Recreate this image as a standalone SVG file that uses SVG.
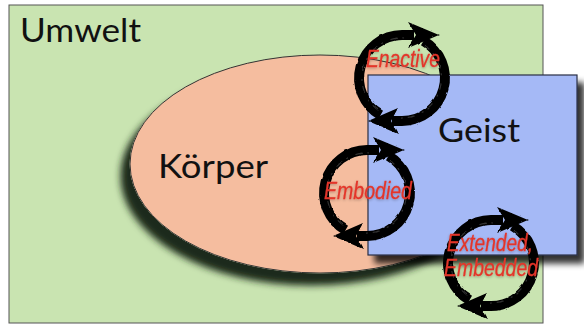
<svg xmlns="http://www.w3.org/2000/svg" xmlns:xlink="http://www.w3.org/1999/xlink" width="584" height="325" viewBox="0 0 584 325">
  <style>
    .big { font-family: Lato, "Liberation Sans", sans-serif; font-size: 33px; fill: #111; }
    .lbl { font-family: "Liberation Sans", Arial, sans-serif; font-style: italic; font-size: 23px; fill: #e3352a; stroke: #e3352a; stroke-width: 0.3; text-anchor: middle; }
    .ring { fill: none; stroke: #000; stroke-width: 10; }
    .streak { fill: none; stroke: #444; stroke-width: 1.2; stroke-dasharray: 7 5 2 8; opacity: 0.7; }
  </style>
  <defs>
    <filter id="shEll" x="-20%" y="-20%" width="140%" height="150%">
      <feGaussianBlur in="SourceAlpha" stdDeviation="3.5"/>
      <feOffset dx="-9" dy="12"/>
      <feComposite in2="SourceAlpha" operator="out" result="s"/>
      <feFlood flood-color="#1c2a1a"/>
      <feComposite in2="s" operator="in"/>
      <feMerge><feMergeNode/><feMergeNode in="SourceGraphic"/></feMerge>
    </filter>
    <filter id="shBox" x="-10%" y="-10%" width="130%" height="130%">
      <feGaussianBlur in="SourceAlpha" stdDeviation="3"/>
      <feOffset dx="7" dy="8"/>
      <feComponentTransfer><feFuncA type="linear" slope="0.8"/></feComponentTransfer>
      <feMerge><feMergeNode/><feMergeNode in="SourceGraphic"/></feMerge>
    </filter>
    <filter id="rough" x="-30%" y="-30%" width="160%" height="160%">
      <feTurbulence type="fractalNoise" baseFrequency="0.15" numOctaves="2" seed="3"/>
      <feDisplacementMap in="SourceGraphic" scale="2.5" xChannelSelector="R" yChannelSelector="G"/>
    </filter>
    <filter id="glow" x="-20%" y="-40%" width="140%" height="180%">
      <feGaussianBlur in="SourceAlpha" stdDeviation="1.5"/>
      <feOffset dx="0" dy="1"/>
      <feComponentTransfer><feFuncA type="linear" slope="0.3"/></feComponentTransfer>
      <feMerge><feMergeNode/><feMergeNode in="SourceGraphic"/></feMerge>
    </filter>
    <g id="cycle" filter="url(#rough)">
      <path class="ring" d="M -21.5,37.2 A 43 43 0 0 1 0,-43 L 12,-43"/>
      <path class="ring" d="M 21.5,-37.2 A 43 43 0 0 1 0,43 L -10,43"/>
      <path class="streak" d="M -24,32 A 40 40 0 0 1 2,-40"/>
      <path class="streak" d="M 22,-33 A 40 40 0 0 1 -2,40"/>
      <polygon points="37,-43 6,-56 14,-43 6,-30" fill="#000"/>
      <polygon points="-34,43 -4,30 -11,43 -4,56" fill="#000"/>
    </g>
  </defs>

  <g id="umwelt">
    <rect x="9" y="5" width="534" height="318" fill="#c9e4b1" stroke="#555" stroke-width="1"/>
    <text class="big" x="20" y="42" textLength="121" lengthAdjust="spacingAndGlyphs">Umwelt</text>
  </g>

  <g id="koerper">
    <ellipse cx="320" cy="164" rx="190" ry="109" fill="#f5bd9f" stroke="#333" stroke-width="1" filter="url(#shEll)"/>
    <text class="big" x="158" y="178" textLength="110" lengthAdjust="spacingAndGlyphs">Körper</text>
  </g>

  <g id="geist">
    <rect x="368" y="75" width="209" height="180" fill="#a5b9f6" stroke="#2a2f45" stroke-width="1.2" filter="url(#shBox)"/>
    <text class="big" x="438" y="142" textLength="82" lengthAdjust="spacingAndGlyphs">Geist</text>
  </g>

  <g id="connectors">
    <g id="enactive">
      <use xlink:href="#cycle" transform="translate(402,78)"/>
      <text class="lbl" x="403" y="67" textLength="74" lengthAdjust="spacingAndGlyphs" filter="url(#glow)">Enactive</text>
    </g>
    <g id="embodied">
      <use xlink:href="#cycle" transform="translate(367,193)"/>
      <text class="lbl" x="368" y="199" textLength="88" lengthAdjust="spacingAndGlyphs" filter="url(#glow)">Embodied</text>
    </g>
    <g id="extended">
      <use xlink:href="#cycle" transform="translate(491,263)"/>
      <text class="lbl" x="490" y="251" textLength="86" lengthAdjust="spacingAndGlyphs" filter="url(#glow)">Extended,</text>
      <text class="lbl" x="491" y="276" textLength="94" lengthAdjust="spacingAndGlyphs" filter="url(#glow)">Embedded</text>
    </g>
  </g>
</svg>
